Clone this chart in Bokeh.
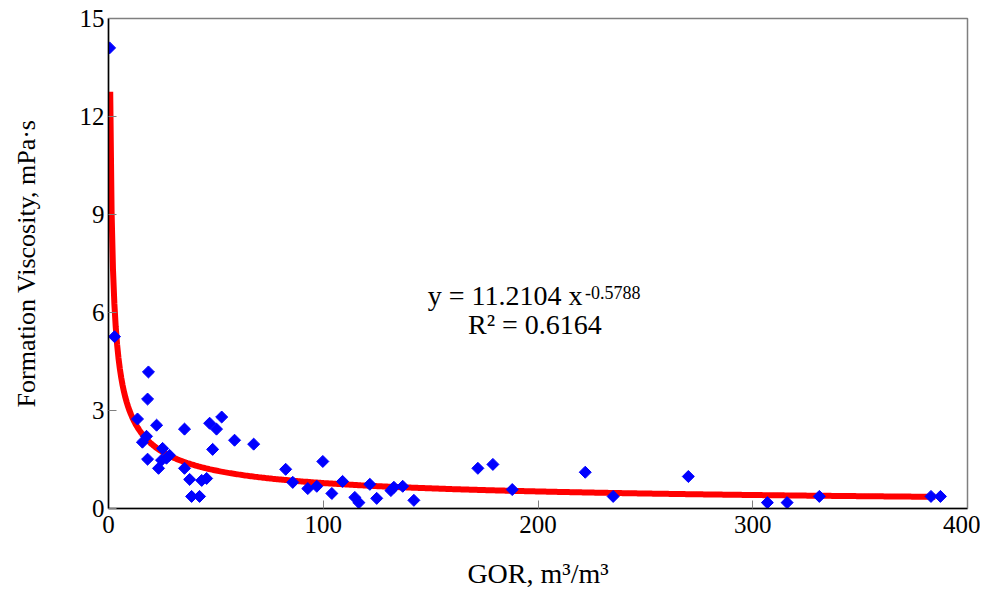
import numpy as np
from bokeh.plotting import figure
from bokeh.models import Range1d, FixedTicker, Label
from bokeh.embed import file_html
from bokeh.resources import INLINE

# ---- data ----
gor = [0.5, 2.8, 13.5, 15.8, 17.7, 18.2, 18.2, 18.6, 22.4, 23.3, 24.7, 25.2, 27.0, 28.4,
       35.4, 35.4, 37.8, 38.7, 42.4, 43.4, 45.7, 47.1, 48.5, 50.3, 52.7, 58.7, 67.6,
       82.5, 85.8, 92.8, 97.0, 99.8, 104.0, 109.0, 114.7, 116.6, 121.7, 124.9, 131.5,
       132.9, 137.0, 142.2, 172.0, 179.0, 188.0, 222.0, 235.0, 270.0, 306.8, 316.0,
       331.0, 383.0, 387.4]
visc = [14.1, 5.26, 2.74, 2.03, 2.21, 3.35, 1.51, 4.18, 2.55, 1.23, 1.48, 1.84, 1.54, 1.63,
        2.43, 1.23, 0.89, 0.37, 0.37, 0.86, 0.92, 2.61, 1.81, 2.43, 2.80, 2.09, 1.97,
        1.20, 0.80, 0.61, 0.68, 1.44, 0.46, 0.83, 0.34, 0.18, 0.74, 0.31, 0.55,
        0.65, 0.68, 0.25, 1.23, 1.35, 0.58, 1.11, 0.37, 0.98, 0.18, 0.18,
        0.37, 0.37, 0.37]

# power-law trendline shown on the chart
trend_coef = 11.2104
trend_exp = -0.5788
trend_r2 = 0.6164
trend_x_start = 0.8
trend_x_end = 385.0

x_ticks = [0, 100, 200, 300, 400]
y_ticks = [0, 3, 6, 9, 12, 15]

W, H = 980, 596
p = figure(width=W, height=H, output_backend="svg", toolbar_location=None,
           x_range=Range1d(0, 400), y_range=Range1d(0, 15),
           min_border_left=108, min_border_right=W - 967,
           min_border_top=18, min_border_bottom=H - 508)
p.background_fill_color = "white"
p.border_fill_color = "white"
p.outline_line_color = "#7f7f7f"
p.outline_line_width = 1.5
p.grid.visible = False

tx = np.linspace(trend_x_start, trend_x_end, 600)
ty = trend_coef * tx ** trend_exp
p.line(tx, ty, line_color="#FF0000", line_width=6)

p.scatter(gor, visc, marker="square", angle=np.pi / 4, size=8.5,
          fill_color="#0000FF", line_color="#0000FF")

font = "Liberation Serif"
for ax in (p.xaxis[0], p.yaxis[0]):
    ax.axis_line_color = "black"
    ax.axis_line_width = 1.5
    ax.major_tick_in = 8
    ax.major_tick_out = 0
    ax.major_tick_line_color = "#7f7f7f"
    ax.minor_tick_line_color = None
    ax.major_label_text_font = font
    ax.major_label_text_font_size = "25px"
    ax.major_label_text_color = "black"
    ax.axis_label_text_font = font
    ax.axis_label_text_font_style = "normal"
    ax.axis_label_text_color = "black"

p.xaxis.axis_label_text_font_size = "28px"
p.yaxis.axis_label_text_font_size = "26px"
p.xaxis.ticker = FixedTicker(ticks=x_ticks)
p.yaxis.ticker = FixedTicker(ticks=y_ticks)
p.xaxis.axis_label = "GOR, m³/m³"
p.yaxis.axis_label = "Formation Viscosity, mPa·s"
p.xaxis.major_label_standoff = 7
p.xaxis.axis_label_standoff = 22
p.yaxis.major_label_standoff = 4
p.yaxis.axis_label_standoff = 36

eq_main = Label(x=148.7, y=6.05, text=f"y = {trend_coef} x", text_font=font,
                text_font_size="28px", text_color="black")
eq_sup = Label(x=221.9, y=6.42, text=f"{trend_exp}", text_font=font,
               text_font_size="18px", text_color="black")
eq_r2 = Label(x=167.4, y=5.15, text=f"R² = {trend_r2}", text_font=font,
              text_font_size="28px", text_color="black")
for lb in (eq_main, eq_sup, eq_r2):
    p.add_layout(lb)

open("out.html", "w").write(file_html(p, INLINE))
